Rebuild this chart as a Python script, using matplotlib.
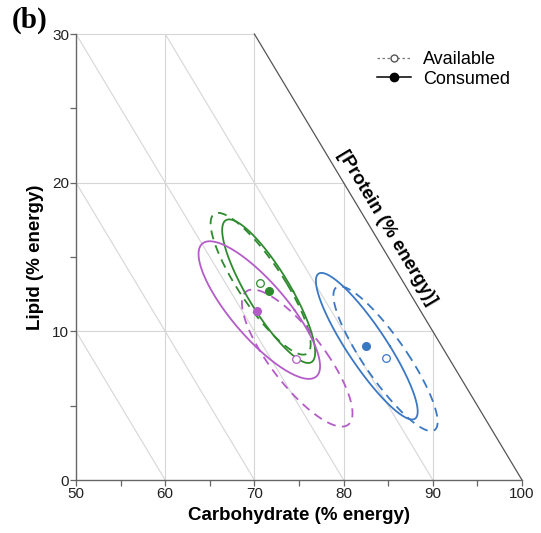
import numpy as np
import matplotlib
matplotlib.use('Agg')
import matplotlib.pyplot as plt
from matplotlib.lines import Line2D

plt.rcParams['font.family'] = ['Liberation Sans', 'DejaVu Sans']

# group colours (green, purple, blue)
colors = ['#2f8a2f', '#b45cc8', '#3b78c4']

# available (open) and consumed (filled) means, % energy
avail_carb = [70.6, 74.7, 84.7]
avail_lipid = [13.25, 8.15, 8.2]
cons_carb = [71.6, 70.3, 82.5]
cons_lipid = [12.7, 11.4, 9.0]

# ellipse: centre, offset of top-most point, half-width of horizontal chord through centre
avail_ell_c = [(70.7, 13.2), (74.8, 8.2), (84.7, 8.16)]
avail_ell_top = [(-4.77, 4.77), (-4.99, 4.61), (-5.10, 4.87)]
avail_ell_w = [2.95, 3.68, 2.85]
cons_ell_c = [(71.6, 12.7), (70.55, 11.43), (82.6, 9.0)]
cons_ell_top = [(-4.43, 4.83), (-5.55, 4.63), (-5.08, 4.93)]
cons_ell_w = [2.75, 3.95, 2.6]

xticks = [50, 60, 70, 80, 90, 100]
yticks = [0, 10, 20, 30]
protein_iso = [60, 70, 80, 90]  # carb + lipid = const


def ellipse(c, top, w):
    t = np.linspace(0, 2 * np.pi, 300)
    x = c[0] + w * np.cos(t) + top[0] * np.sin(t)
    y = c[1] + top[1] * np.sin(t)
    return x, y


fig = plt.figure(figsize=(5.41, 5.33), dpi=100)
ax = fig.add_axes([76 / 541, 1 - 480 / 533, (522 - 76) / 541, (480 - 34) / 533])
ax.set_xlim(50, 100)
ax.set_ylim(0, 30)

grid_c = '#d6d6d6'
# horizontal grid inside the triangle
for y in [10, 20, 30]:
    ax.plot([50, min(100 - y, 100)], [y, y], color=grid_c, lw=0.8, zorder=0, clip_on=False)
# vertical grid
for x in [60, 70, 80, 90]:
    ax.plot([x, x], [0, min(100 - x, 30)], color=grid_c, lw=0.8, zorder=0)
# protein isolines
for s in protein_iso:
    x0 = max(50, s - 30)
    ax.plot([x0, s], [s - x0, 0], color=grid_c, lw=0.8, zorder=0)
# zero-protein edge
ax.plot([70, 100], [30, 0], color='#555555', lw=0.9, zorder=1, clip_on=False)

for i in range(3):
    x, y = ellipse(avail_ell_c[i], avail_ell_top[i], avail_ell_w[i])
    ax.plot(x, y, color=colors[i], lw=1.3, ls=(0, (5, 3.5)), zorder=2)
    x, y = ellipse(cons_ell_c[i], cons_ell_top[i], cons_ell_w[i])
    ax.plot(x, y, color=colors[i], lw=1.3, zorder=3)
    ax.plot(avail_carb[i], avail_lipid[i], 'o', mfc='white', mec=colors[i], ms=5.5, mew=0.9, zorder=4)
    ax.plot(cons_carb[i], cons_lipid[i], 'o', color=colors[i], ms=5.5, zorder=5)

# axes styling
for sp in ['top', 'right']:
    ax.spines[sp].set_visible(False)
for sp in ['left', 'bottom']:
    ax.spines[sp].set_color('#666666')
    ax.spines[sp].set_linewidth(1.0)
ax.set_xticks(xticks)
ax.set_yticks(yticks)
ax.set_xticks([55, 65, 75, 85, 95], minor=True)
ax.set_yticks([5, 15, 25], minor=True)
ax.tick_params(which='both', length=4, width=0.9, color='#666666', labelsize=11, labelcolor='#222222', pad=1)
for lab in ax.get_xticklabels() + ax.get_yticklabels():
    lab.set_clip_on(False)

ax.set_xlabel('Carbohydrate (% energy)', fontsize=13.5, fontweight='bold', labelpad=4)
ax.set_ylabel('Lipid (% energy)', fontsize=13.5, fontweight='bold', labelpad=6)

# rotated protein label along the diagonal
p1 = ax.transData.transform((70, 30))
p2 = ax.transData.transform((100, 0))
ang = np.degrees(np.arctan2(p2[1] - p1[1], p2[0] - p1[0]))
ax.text(84.9, 17.0, '[Protein (% energy)]', rotation=ang, rotation_mode='anchor',
        ha='center', va='center', fontsize=13.5, fontweight='bold')

handles = [
    Line2D([0], [0], color='#777777', lw=0.9, ls=(0, (2, 2)), marker='o', mfc='white', mec='#555555', ms=5),
    Line2D([0], [0], color='black', lw=1.1, marker='o', ms=6),
]
fig.legend(handles, ['Available', 'Consumed'], loc='upper left', bbox_to_anchor=(368 / 541, 1 - 42 / 533),
           frameon=False, fontsize=13, handlelength=1.9, handletextpad=0.65, labelspacing=0.15, borderpad=0)

fig.text(30 / 541, 1 - 20 / 533, '(b)', fontsize=21, fontweight='bold', family='Liberation Serif',
         ha='center', va='center')

plt.savefig('out.png', dpi=100)
